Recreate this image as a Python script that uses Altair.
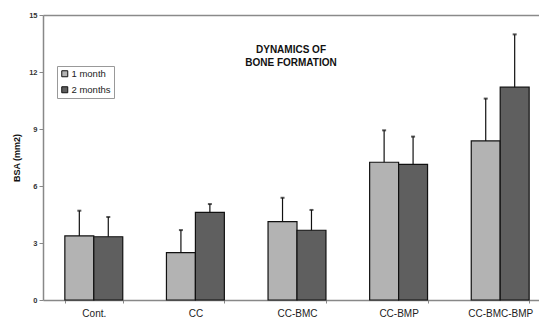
import altair as alt
import pandas as pd

groups = ["Cont.", "CC", "CC-BMC", "CC-BMP", "CC-BMC-BMP"]
series = ["1 month", "2 months"]
month1 = [3.37, 2.49, 4.12, 7.25, 8.37]
month1_upper = [4.70, 3.68, 5.38, 8.93, 10.60]
month2 = [3.33, 4.61, 3.67, 7.14, 11.20]
month2_upper = [4.37, 5.05, 4.74, 8.60, 13.98]
y_ticks = [0, 3, 6, 9, 12, 15]
colors = ["#b3b3b3", "#5f5f5f"]

rows = []
for g, v, u in zip(groups, month1, month1_upper):
    rows.append({"group": g, "series": series[0], "value": v, "upper": u})
for g, v, u in zip(groups, month2, month2_upper):
    rows.append({"group": g, "series": series[1], "value": v, "upper": u})
df = pd.DataFrame(rows)

FONT = "Liberation Sans"

x_enc = alt.X(
    "group:N",
    sort=groups,
    title=None,
    scale=alt.Scale(paddingInner=0.43, paddingOuter=0.215, range=[0, 508]),
    axis=alt.Axis(
        labelAngle=0,
        labelFont=FONT,
        labelFontSize=10,
        labelColor="#222",
        labelPadding=5,
        tickSize=3,
        tickBand="extent",
        tickColor="#888",
        domainColor="#888",
        domainWidth=1.5,
        grid=False,
    ),
)
xoff = alt.XOffset("series:N", sort=series, scale=alt.Scale(paddingInner=0, paddingOuter=0))
y_scale = alt.Scale(domain=[0, 15], nice=False)

bars = alt.Chart(df).mark_bar(stroke="#111", strokeWidth=1.2).encode(
    x=x_enc,
    xOffset=xoff,
    y=alt.Y(
        "value:Q",
        scale=y_scale,
        title="BSA (mm2)",
        axis=alt.Axis(
            values=y_ticks,
            labelFont=FONT,
            labelFontSize=7.5,
            labelFontWeight="bold",
            labelColor="#333",
            labelPadding=2,
            tickSize=4,
            tickColor="#888",
            domainColor="#888",
            domainWidth=1.5,
            titleFont=FONT,
            titleFontSize=9,
            titleFontWeight="bold",
            titleColor="#111",
            titleAngle=270,
            titleBaseline="middle",
            titleX=-27,
            titleY=142.5,
            grid=True,
            gridColor=alt.condition("datum.value == 15", alt.value("#8a8a8a"), alt.value("transparent")),
            gridWidth=1.5,
        ),
    ),
    color=alt.Color(
        "series:N",
        sort=series,
        scale=alt.Scale(domain=series, range=colors),
        legend=alt.Legend(
            title=None,
            orient="none",
            legendX=14,
            legendY=51,
            strokeColor="#999",
            fillColor="white",
            padding=3,
            symbolType="square",
            symbolSize=36,
            symbolStrokeColor="#111",
            symbolStrokeWidth=1,
            labelFont=FONT,
            labelFontSize=9.5,
            labelColor="#222",
            labelOffset=2,
            rowPadding=5,
            cornerRadius=0,
        ),
    ),
)

err = alt.Chart(df).mark_rule(color="#111", strokeWidth=1.2).encode(
    x=alt.X("group:N", sort=groups),
    xOffset=xoff,
    y=alt.Y("value:Q", scale=y_scale),
    y2="upper:Q",
)

caps = alt.Chart(df).mark_tick(color="#111", thickness=2, size=4).encode(
    x=alt.X("group:N", sort=groups),
    xOffset=xoff,
    y=alt.Y("upper:Q", scale=y_scale),
)

chart = (
    alt.layer(bars, err, caps)
    .properties(
        width=496,
        height=285,
        autosize=alt.AutoSizeParams(type="none"),
        padding={"left": 35, "top": 7, "right": 0, "bottom": 20},
        background="white",
        title=alt.TitleParams(
            ["DYNAMICS OF", "BONE FORMATION"],
            font=FONT,
            fontSize=10,
            fontWeight="bold",
            color="#111",
            anchor="middle",
            lineHeight=13,
            dy=61,
        ),
    )
    .configure_view(stroke=None)
)

chart.save("out.html", embed_options={"renderer": "svg", "actions": False})
